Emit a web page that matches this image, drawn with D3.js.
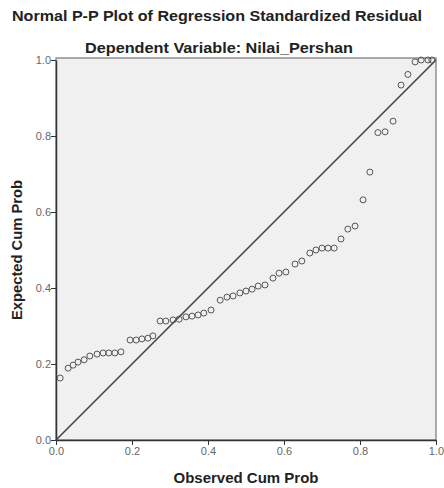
<!DOCTYPE html>
<html><head><meta charset="utf-8">
<script src="https://cdn.jsdelivr.net/npm/d3@7"></script>
<style>body{margin:0;background:#fff}svg{display:block}</style>
</head><body>
<script>
const title = "Normal P-P Plot of Regression Standardized Residual";
const subtitle = "Dependent Variable: Nilai_Pershan";
const xLabel = "Observed Cum Prob";
const yLabel = "Expected Cum Prob";
const tickValues = [0, 0.2, 0.4, 0.6, 0.8, 1.0];
const observed = [0.011,0.032,0.045,0.058,0.074,0.089,0.108,0.124,0.139,0.155,0.171,0.195,0.211,0.226,0.242,0.255,0.274,0.289,0.308,0.324,0.342,0.358,0.374,0.389,0.408,0.432,0.450,0.466,0.484,0.500,0.516,0.532,0.550,0.571,0.587,0.605,0.629,0.647,0.668,0.684,0.700,0.716,0.732,0.750,0.768,0.787,0.808,0.826,0.847,0.866,0.887,0.908,0.926,0.945,0.961,0.979,0.989];
const expected = [0.163,0.189,0.197,0.205,0.211,0.221,0.226,0.229,0.229,0.229,0.232,0.263,0.263,0.266,0.268,0.274,0.313,0.313,0.316,0.318,0.324,0.326,0.329,0.334,0.342,0.368,0.376,0.379,0.387,0.392,0.397,0.405,0.408,0.426,0.439,0.442,0.463,0.471,0.492,0.500,0.505,0.505,0.505,0.529,0.555,0.563,0.632,0.705,0.809,0.811,0.839,0.934,0.962,0.995,1.0,1.0,1.0];

const W = 444, H = 488;
const m = {left:56, right:8, top:60, bottom:48};
const svg = d3.select("body").append("svg").attr("width", W).attr("height", H);
const x = d3.scaleLinear().domain([0,1]).range([m.left, W - m.right]);
const y = d3.scaleLinear().domain([0,1]).range([H - m.bottom, m.top]);

svg.append("rect").attr("x", x(0)).attr("y", y(1)-2).attr("width", x(1)-x(0)).attr("height", y(0)-y(1)+2)
  .attr("fill", "#f0f0f0").attr("stroke", "#777").attr("stroke-width", 1.2);

const font = "Liberation Sans, Arial, sans-serif";
const xAxis = svg.append("g").attr("transform", `translate(0,${y(0)})`)
  .call(d3.axisBottom(x).tickValues(tickValues).tickFormat(d3.format(".1f")).tickSize(5).tickSizeOuter(0));
const yAxis = svg.append("g").attr("transform", `translate(${x(0)},0)`)
  .call(d3.axisLeft(y).tickValues(tickValues).tickFormat(d3.format(".1f")).tickSize(5).tickSizeOuter(0));
[xAxis, yAxis].forEach(g => {
  g.select(".domain").attr("stroke", "#333").attr("stroke-width", 1.5);
  g.selectAll(".tick line").attr("stroke", "#333");
  g.selectAll(".tick text").attr("fill", "#666").style("font-family", font).style("font-size", "11px");
});
xAxis.selectAll(".tick text").attr("y", 6).attr("dy", "0.8em");
yAxis.selectAll(".tick text").attr("x", -5);

svg.append("line").attr("x1", x(0)).attr("y1", y(0)).attr("x2", x(1)).attr("y2", y(1))
  .attr("stroke", "#444").attr("stroke-width", 1.6);

svg.append("g").selectAll("circle").data(observed.map((v,i)=>[v, expected[i]])).join("circle")
  .attr("cx", d => x(d[0])).attr("cy", d => y(d[1])).attr("r", 3)
  .attr("fill", "none").attr("stroke", "#555").attr("stroke-width", 1);

function label(sel, txt, size, weight, len) {
  return sel.attr("text-anchor", "middle").style("font-family", font).style("font-weight", weight)
    .style("font-size", size + "px").attr("fill", "#222")
    .attr("textLength", len).attr("lengthAdjust", "spacingAndGlyphs").text(txt);
}
label(svg.append("text").attr("x", 217).attr("y", 21), title, 15, "bold", 410);
label(svg.append("text").attr("x", 219).attr("y", 53), subtitle, 15, "bold", 268);
label(svg.append("text").attr("x", (x(0)+x(1))/2).attr("y", 483), xLabel, 14, "bold", 145);
label(svg.append("text").attr("transform", `translate(22,250) rotate(-90)`), yLabel, 14, "bold", 140);
</script>
</body></html>
